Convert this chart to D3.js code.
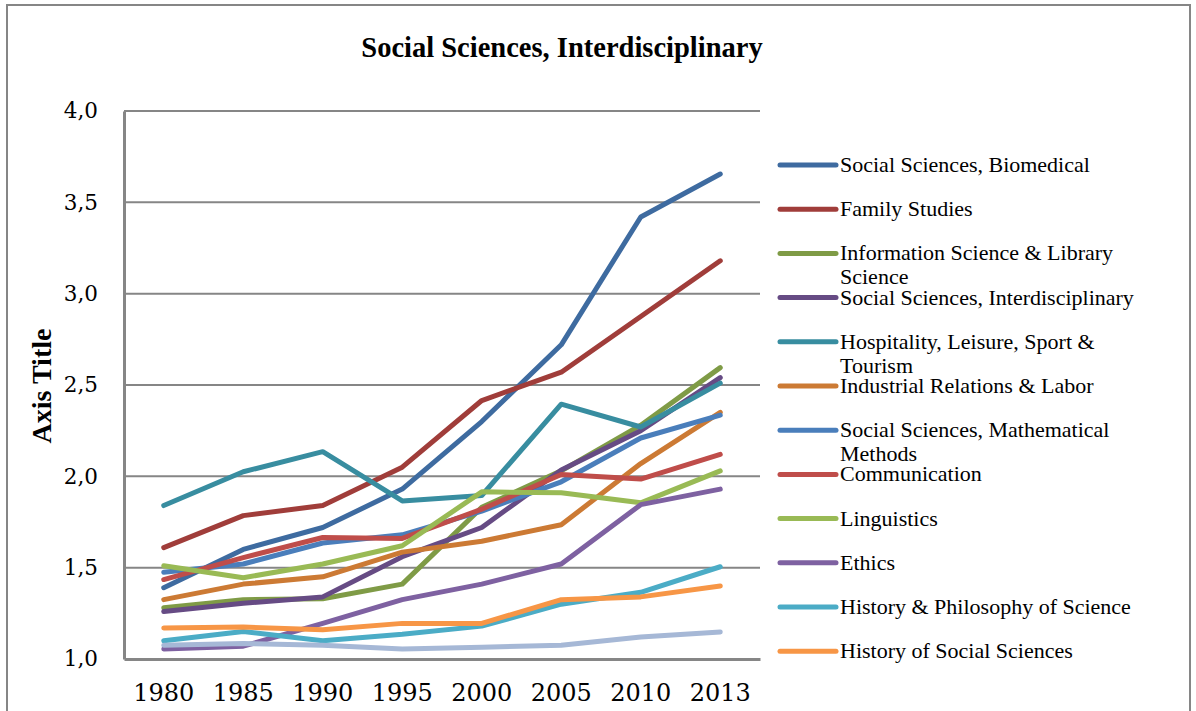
<!DOCTYPE html>
<html>
<head>
<meta charset="utf-8">
<script src="https://cdn.jsdelivr.net/npm/d3@7"></script>
<style>
html, body { margin: 0; padding: 0; background: #fff; }
svg { display: block; }
</style>
</head>
<body>
<svg id="chart" width="1196" height="711"></svg>
<script>
// ---- data ----
const years = ["1980", "1985", "1990", "1995", "2000", "2005", "2010", "2013"];
const seriesNames = [
  "Social Sciences, Biomedical",
  "Family Studies",
  "Information Science & Library Science",
  "Social Sciences, Interdisciplinary",
  "Hospitality, Leisure, Sport & Tourism",
  "Industrial Relations & Labor",
  "Social Sciences, Mathematical Methods",
  "Communication",
  "Linguistics",
  "Ethics",
  "History & Philosophy of Science",
  "History of Social Sciences",
  "Other (not in legend)"
];
const biomedical      = [1.39, 1.60, 1.72, 1.93, 2.30, 2.72, 3.42, 3.655];
const familyStudies   = [1.61, 1.785, 1.84, 2.05, 2.415, 2.57, 2.875, 3.18];
const infoScience     = [1.28, 1.325, 1.33, 1.41, 1.83, 2.03, 2.28, 2.595];
const ssInterdisc     = [1.26, 1.305, 1.34, 1.56, 1.72, 2.035, 2.25, 2.54];
const hospitality     = [1.84, 2.025, 2.135, 1.865, 1.895, 2.395, 2.27, 2.51];
const industrialRel   = [1.325, 1.41, 1.45, 1.585, 1.645, 1.735, 2.07, 2.35];
const ssMathMethods   = [1.475, 1.52, 1.635, 1.68, 1.81, 1.97, 2.21, 2.335];
const communication   = [1.435, 1.555, 1.665, 1.66, 1.82, 2.01, 1.985, 2.12];
const linguistics     = [1.51, 1.445, 1.52, 1.62, 1.915, 1.91, 1.855, 2.03];
const ethics          = [1.055, 1.07, 1.195, 1.325, 1.41, 1.52, 1.845, 1.93];
const histPhilScience = [1.10, 1.15, 1.10, 1.135, 1.18, 1.30, 1.365, 1.505];
const histSocSciences = [1.17, 1.175, 1.16, 1.195, 1.195, 1.325, 1.34, 1.40];
const otherSeries     = [1.075, 1.085, 1.075, 1.055, 1.065, 1.075, 1.12, 1.148];
const seriesValues = [biomedical, familyStudies, infoScience, ssInterdisc, hospitality,
  industrialRel, ssMathMethods, communication, linguistics, ethics, histPhilScience,
  histSocSciences, otherSeries];
const seriesColors = ["#3E6BA0", "#A03D3A", "#7F9B46", "#664B84", "#388DA0", "#CC7A34",
  "#4A7EBB", "#BF4D4A", "#99BA55", "#7E61A1", "#4BACC6", "#F79646", "#A6B8D6"];
const yTicks = [1.0, 1.5, 2.0, 2.5, 3.0, 3.5, 4.0];
const legendCount = 12;
const titleText = "Social Sciences, Interdisciplinary";
const yAxisTitle = "Axis Title";

// ---- layout ----
const svg = d3.select("#chart");
const plot = { left: 124, right: 760, top: 111, bottom: 659 };
const gridColor = "#868686";

// outer frame
svg.append("rect")
  .attr("x", 7).attr("y", 5).attr("width", 1183).attr("height", 720)
  .attr("fill", "none").attr("stroke", gridColor).attr("stroke-width", 2);

const x = d3.scaleBand().domain(years).range([plot.left, plot.right]);
const xc = d => x(d) + x.bandwidth() / 2;
const y = d3.scaleLinear().domain([1, 4]).range([plot.bottom, plot.top]);

// gridlines
svg.append("g").selectAll("line")
  .data(yTicks.slice(1))
  .join("line")
  .attr("x1", plot.left).attr("x2", plot.right)
  .attr("y1", d => y(d)).attr("y2", d => y(d))
  .attr("stroke", gridColor).attr("stroke-width", 2);

// y axis
const yAxis = d3.axisLeft(y).tickValues(yTicks).tickSize(0).tickPadding(26)
  .tickFormat(d => d3.format(".1f")(d).replace(".", ","));
const gy = svg.append("g").attr("transform", `translate(${plot.left},0)`).call(yAxis);
gy.select(".domain").attr("stroke", gridColor).attr("stroke-width", 3);
gy.selectAll("text").attr("font-family", "DejaVu Serif").attr("font-size", 21.5).attr("fill", "#000");

// x axis
const xAxis = d3.axisBottom(x).tickSize(0).tickPadding(25);
const gx = svg.append("g").attr("transform", `translate(0,${plot.bottom})`).call(xAxis);
gx.select(".domain").attr("stroke", gridColor).attr("stroke-width", 3);
gx.selectAll("text").attr("font-family", "DejaVu Serif").attr("font-size", 24).attr("fill", "#000");

// lines
const line = d3.line().x((d, i) => xc(years[i])).y(d => y(d));
svg.append("g").selectAll("path")
  .data(seriesValues)
  .join("path")
  .attr("d", d => line(d))
  .attr("fill", "none")
  .attr("stroke", (d, i) => seriesColors[i])
  .attr("stroke-width", 5)
  .attr("stroke-linejoin", "round")
  .attr("stroke-linecap", "round");

// title
svg.append("text")
  .attr("x", 562).attr("y", 57)
  .attr("text-anchor", "middle")
  .attr("font-family", "Liberation Serif").attr("font-weight", "bold").attr("font-size", 28.5)
  .text(titleText);

// y axis title
svg.append("text")
  .attr("transform", "translate(51,386) rotate(-90)")
  .attr("text-anchor", "middle")
  .attr("font-family", "Liberation Serif").attr("font-weight", "bold").attr("font-size", 28)
  .text(yAxisTitle);

// legend
const legend = svg.append("g");
const legY0 = 165, legStep = 44.2, wrapW = 310, lineH = 24;
seriesNames.slice(0, legendCount).forEach((name, i) => {
  const ly = legY0 + i * legStep;
  legend.append("line")
    .attr("x1", 780).attr("x2", 836).attr("y1", ly).attr("y2", ly)
    .attr("stroke", seriesColors[i]).attr("stroke-width", 5).attr("stroke-linecap", "round");
  const t = legend.append("text")
    .attr("x", 840).attr("y", ly + 7)
    .attr("font-family", "Liberation Serif").attr("font-size", 22).attr("fill", "#000");
  const words = name.split(" ");
  let lineWords = [], tspan = t.append("tspan").attr("x", 840).attr("y", ly + 7);
  let lineNo = 0;
  words.forEach(w => {
    lineWords.push(w);
    tspan.text(lineWords.join(" "));
    if (tspan.node().getComputedTextLength() > wrapW && lineWords.length > 1) {
      lineWords.pop();
      tspan.text(lineWords.join(" "));
      lineWords = [w];
      lineNo++;
      tspan = t.append("tspan").attr("x", 840).attr("y", ly + 7 + lineNo * lineH).text(w);
    }
  });
});
</script>
</body>
</html>
